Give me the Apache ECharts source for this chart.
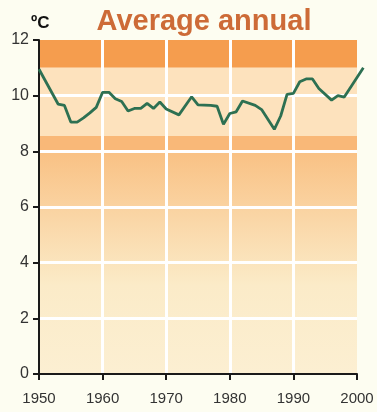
<!DOCTYPE html>
<html>
<head>
<meta charset="utf-8">
<script src="https://cdn.jsdelivr.net/npm/echarts@6/dist/echarts.min.js"></script>
<style>
  html, body { margin: 0; padding: 0; background: #fdfdf1; }
  #chart { width: 377px; height: 412px; }
</style>
</head>
<body>
<div id="chart"></div>
<script>
// annual mean temperature
var years = [1950, 1953, 1954, 1955, 1956, 1957, 1958, 1959, 1960, 1961, 1962, 1963, 1964, 1965, 1966, 1967, 1968, 1969, 1970, 1972, 1974, 1975, 1977, 1978, 1979, 1980, 1981, 1982, 1984, 1985, 1987, 1988, 1989, 1990, 1991, 1992, 1993, 1994, 1996, 1997, 1998, 2001]
var temps = [10.95, 9.7, 9.65, 9.05, 9.05, 9.2, 9.38, 9.58, 10.12, 10.12, 9.89, 9.79, 9.45, 9.54, 9.54, 9.72, 9.54, 9.77, 9.52, 9.31, 9.96, 9.67, 9.65, 9.62, 8.97, 9.36, 9.42, 9.81, 9.65, 9.5, 8.79, 9.27, 10.05, 10.08, 10.5, 10.6, 10.6, 10.26, 9.84, 10.0, 9.95, 11.0]

// background bands (upper / lower limits in degrees)
var bandTop = [12, 11, 8.55, 8]
var bandBottom = [11, 8.55, 8, 0]

var xTicks = [1950, 1960, 1970, 1980, 1990, 2000]

var chart = echarts.init(document.getElementById('chart'))

var bandColors = [
  '#f59d4e',
  '#fde2bd',
  '#f9b878',
  new echarts.graphic.LinearGradient(0, 0, 0, 1, [
    { offset: 0, color: '#f9c184' },
    { offset: 0.6, color: '#fbebc8' },
    { offset: 1, color: '#fcefd2' }
  ])
]

var areas = bandTop.map(function(t, i) {
  return [
    { yAxis: t, xAxis: xTicks[0], itemStyle: { color: bandColors[i] } },
    { yAxis: bandBottom[i], xAxis: xTicks[xTicks.length - 1] }
  ]
})

// the line runs a year past the last tick, so it gets its own wider grid
var pxPerYear = 318 / 50
var lastYear = 2001.3

chart.setOption({
  backgroundColor: '#fdfdf1',
  animation: false,
  title: [
    {
      text: 'Average annual',
      left: 199,
      textAlign: 'center',
      top: 2,
      textStyle: { color: '#cd6b37', fontSize: 29, fontWeight: 'bold', fontFamily: 'Liberation Sans' }
    },
    {
      text: 'ºC',
      left: 26,
      top: 10,
      textStyle: { color: '#111', fontSize: 17, fontWeight: 'bold', fontFamily: 'Liberation Sans' }
    }
  ],
  grid: [
    { left: 39, right: 20, top: 40, bottom: 38 },
    { left: 39, right: 20 - (lastYear - 2000) * pxPerYear, top: 40, bottom: 38 }
  ],
  xAxis: [
    {
      type: 'value',
      gridIndex: 0,
      min: 1950,
      max: 2000,
      interval: 10,
      z: 2,
      axisLine: { lineStyle: { color: '#1a1a1a', width: 2 } },
      axisTick: { length: 6, lineStyle: { color: '#1a1a1a', width: 2 } },
      axisLabel: { color: '#333', fontSize: 15, margin: 17, fontFamily: 'Liberation Sans', formatter: function(v) { return String(v) } },
      splitLine: { show: true, showMinLine: false, showMaxLine: false, lineStyle: { color: '#ffffff', width: 3 } }
    },
    {
      type: 'value',
      gridIndex: 1,
      min: 1950,
      max: lastYear,
      show: false
    }
  ],
  yAxis: [
    {
      type: 'value',
      gridIndex: 0,
      min: 0,
      max: 12,
      interval: 2,
      z: 2,
      axisLine: { show: true, lineStyle: { color: '#1a1a1a', width: 2 } },
      axisTick: { show: true, length: 6, lineStyle: { color: '#1a1a1a', width: 2 } },
      axisLabel: { color: '#333', fontSize: 16, margin: 10, fontFamily: 'Liberation Sans' },
      splitLine: { show: true, showMinLine: false, showMaxLine: false, lineStyle: { color: '#ffffff', width: 3 } }
    },
    {
      type: 'value',
      gridIndex: 1,
      min: 0,
      max: 12,
      show: false
    }
  ],
  series: [
    {
      type: 'line',
      xAxisIndex: 0,
      yAxisIndex: 0,
      data: [],
      z: 0,
      silent: true,
      markArea: { silent: true, z: 0, data: areas }
    },
    {
      type: 'line',
      xAxisIndex: 1,
      yAxisIndex: 1,
      z: 5,
      showSymbol: false,
      data: years.map(function(y, i) { return [y, temps[i]] }),
      lineStyle: { color: '#2d7052', width: 2.8 }
    }
  ]
})
</script>
</body>
</html>
